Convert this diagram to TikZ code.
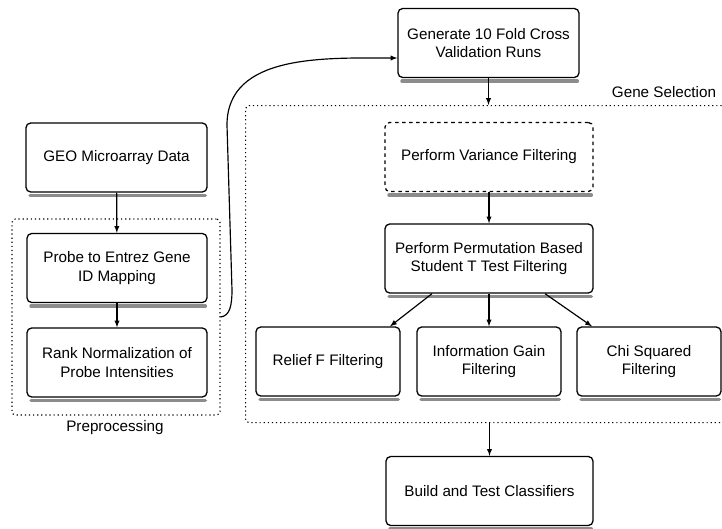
\documentclass[tikz,border=0pt]{standalone}
\usepackage{fontspec}
\setmainfont{Liberation Sans}

\begin{document}
\begin{tikzpicture}[x=0.03cm, y=-0.03cm,
  every node/.style={font=\fontsize{13}{16}\selectfont, align=center},
  box/.style={draw, line width=1.1pt, rounded corners=4pt, fill=white, minimum height=2.07cm},
  boxshadow/.style={draw=black!45, line width=3pt, line cap=round},
  group/.style={draw, line width=1pt, dash pattern=on 1pt off 2.5pt, rounded corners=3pt},
  arr/.style={-latex, line width=1pt}]
\useasboundingbox (0,0) rectangle (722,529);
% Draw groups
\node[group, minimum width=6.24cm, minimum height=5.88cm] (pre) at (116,317) {};
\node[group, minimum width=15cm, minimum height=9.51cm, anchor=north west] (sel) at (245,105) {};
% Draw boxes
\node[box, minimum width=5.43cm] (geo) at (116.5,157.5) {GEO Microarray Data};
\node[box, minimum width=5.4cm] (probe) at (117,268) {Probe to Entrez Gene\\ID Mapping};
\node[box, minimum width=5.4cm] (rank) at (117,362.5) {Rank Normalization of\\Probe Intensities};
\node[box, minimum width=5.43cm] (gen) at (488.5,43) {Generate 10 Fold Cross\\Validation Runs};
\node[box, dashed, minimum width=6.24cm] (var) at (489,157) {Perform Variance Filtering};
\node[box, minimum width=6.24cm] (perm) at (489,258.5) {Perform Permutation Based\\Student T Test Filtering};
\node[box, minimum width=4.32cm] (relief) at (328,361.5) {Relief F Filtering};
\node[box, minimum width=4.32cm] (info) at (489,361.5) {Information Gain\\Filtering};
\node[box, minimum width=4.32cm] (chi) at (649,361.5) {Chi Squared\\Filtering};
\node[box, minimum width=6.21cm] (build) at (489.5,491) {Build and Test Classifiers};
% Draw shadows
\foreach \n in {geo,probe,rank,gen,var,perm,relief,info,chi,build}
  \draw[boxshadow] ([xshift=4pt,yshift=-2.6pt]\n.south west) -- ([xshift=-2pt,yshift=-2.6pt]\n.south east);
% Draw arrows
\draw[arr] (geo) -- (probe);
\draw[arr] (probe) -- (rank);
\draw[arr] (pre.east) .. controls (230,316) and (232,305) .. (232,290) -- (227,125) to[out=90, in=180] ([yshift=-0.45cm]gen.west);
\draw[arr] (gen) -- (gen |- sel.north);
\draw[arr] (var) -- (perm);
\draw[arr] ([xshift=-1.71cm]perm.south) -- ([xshift=1.86cm]relief.north);
\draw[arr] (perm) -- (info);
\draw[arr] ([xshift=1.68cm]perm.south) -- ([xshift=-1.71cm]chi.north);
\draw[arr] (sel.south -| build) -- (build);
% Draw labels
\node (prelabel) at (115,428) {Preprocessing};
\node (sellabel) at (664,92) {Gene Selection};
\end{tikzpicture}
\end{document}
